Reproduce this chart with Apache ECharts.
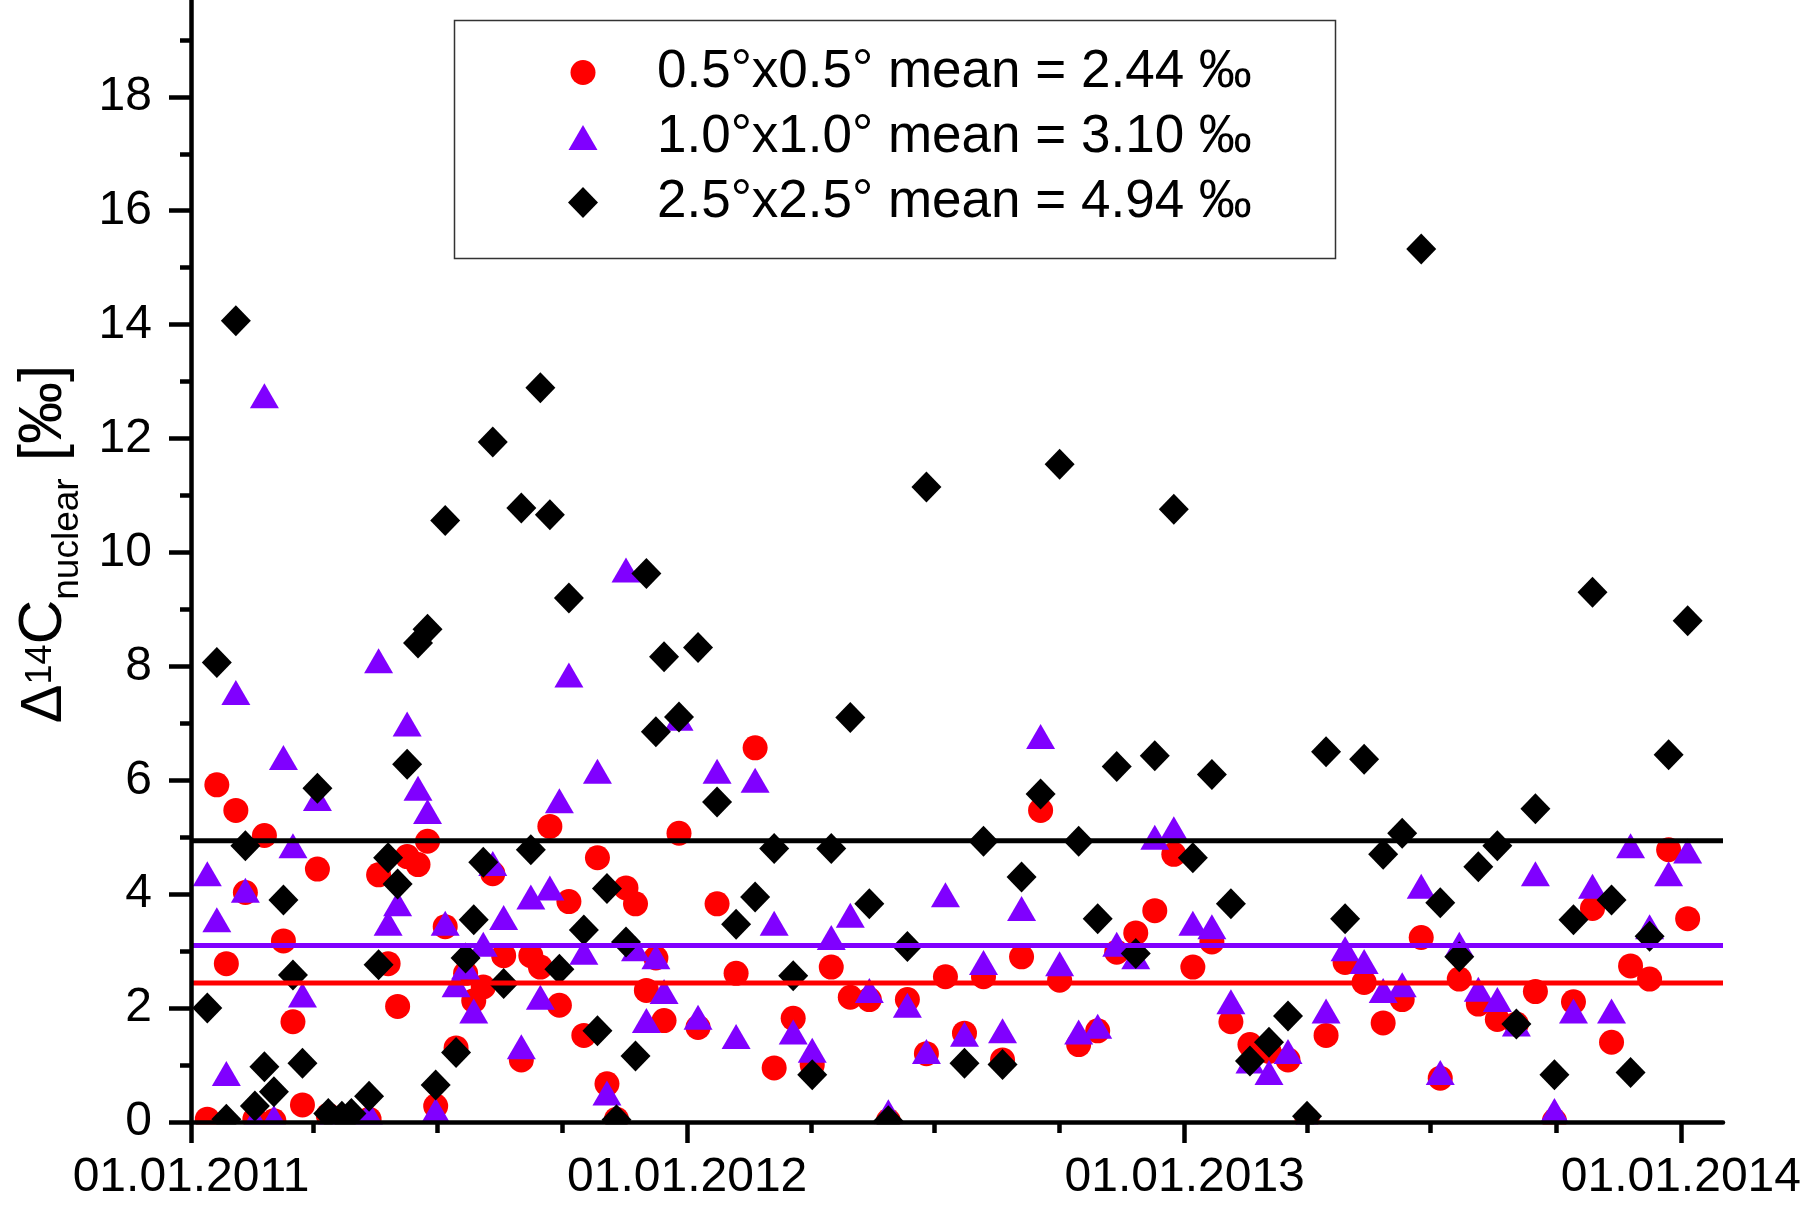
<!DOCTYPE html>
<html><head><meta charset="utf-8">
<script src="https://cdn.jsdelivr.net/npm/echarts@6/dist/echarts.min.js"></script>
<style>html,body{margin:0;padding:0;background:#fff}#c{width:1809px;height:1210px}</style>
</head><body><div id="c"></div>
<script>
// sampling day: days after 01.01.2011
const sampleDay = [12,19,26,33,40,47,54,61,68,75,82,93,101,111,118,131,138,145,152,159,167,174,180,187,195,202,208,215,222,230,243,250,257,264,271,278,289,299,306,313,320,327,335,342,348,359,
373,387,401,415,429,443,457,471,485,499,513,527,541,555,569,583,597,611,625,639,653,667,681,695,709,723,737,751,765,779,793,807,821,835,849,863,877,891,905,919,933,947,961,975,989,1003,1017,1031,1045,1059,1073,1087,1101];
const res05 = [0.05,5.92,2.78,5.47,4.03,0.05,5.03,0.02,3.18,1.76,0.3,4.44,0.12,0.05,0.03,0.05,4.34,2.78,2.03,4.66,4.52,4.93,0.28,3.43,1.3,2.61,2.13,2.37,4.36,2.92,1.09,2.92,2.72,5.19,2.05,3.87,1.52,4.64,0.67,0.05,4.11,3.83,2.31,2.88,1.78,5.07,
1.66,3.83,2.61,6.57,0.95,1.82,1.0,2.72,2.19,2.15,0.02,2.15,1.2,2.55,1.56,2.55,1.09,2.9,5.47,2.49,1.36,1.6,2.98,3.32,3.71,4.7,2.72,3.16,1.76,1.36,1.24,1.09,0.05,1.52,2.8,2.45,1.74,2.15,3.24,0.77,2.51,2.07,1.8,1.72,2.29,0.02,2.11,3.75,1.4,2.74,2.51,4.78,3.57];
const res10 = [4.36,3.55,0.85,7.54,4.07,0.05,12.75,0.08,6.4,4.85,2.23,5.68,0.05,0.05,0.08,0.15,8.1,3.49,3.83,6.99,5.86,5.45,0.2,3.49,2.41,2.72,1.95,3.12,4.54,3.59,1.32,3.95,2.19,4.11,5.64,7.85,2.98,6.16,0.51,0.05,9.69,3.04,1.78,2.9,2.29,7.09,
1.84,6.16,1.5,6.0,3.49,1.58,1.26,3.24,3.63,2.31,0.18,2.05,1.24,3.99,1.54,2.8,1.6,3.75,6.77,2.78,1.58,1.68,3.12,2.9,5.0,5.15,3.49,3.43,2.11,1.07,0.87,1.24,0.05,1.95,3.04,2.82,2.31,2.41,4.14,0.87,3.12,2.33,2.15,1.72,4.36,0.2,1.95,4.14,1.95,4.85,3.43,4.36,4.76];
const res25 = [2.0,8.07,0.05,14.07,4.85,0.28,0.97,0.53,3.9,2.58,1.03,5.86,0.15,0.1,0.15,0.45,2.76,4.64,4.18,6.28,8.41,8.65,0.65,10.56,1.22,2.88,3.55,4.56,11.94,2.43,10.78,4.78,12.89,10.66,2.68,9.2,3.37,1.6,4.1,0.04,3.16,1.16,9.63,6.85,8.17,7.11,
8.33,5.62,3.47,3.95,4.8,2.57,0.83,4.8,7.1,3.83,0.02,3.08,11.15,null,1.03,4.93,1.01,4.3,5.76,11.55,4.93,3.57,6.24,2.96,6.43,10.76,4.64,6.1,3.83,1.07,1.4,1.86,0.1,6.5,3.57,6.37,4.7,5.07,15.33,3.85,2.9,4.48,4.85,1.72,5.5,0.83,3.55,9.3,3.9,0.87,3.26,6.45,8.8];
const seriesNames = ['0.5°x0.5° mean = 2.44 ‰','1.0°x1.0° mean = 3.10 ‰','2.5°x2.5° mean = 4.94 ‰'];
const meanValues = [2.44, 3.10, 4.94];
const xMajorTicks = ['2011-01-01','2012-01-01','2013-01-01','2014-01-01'];
const xMinorTicks = ['2011-04-01','2011-07-01','2011-10-01','2012-04-01','2012-07-01','2012-10-01','2013-04-01','2013-07-01','2013-10-01'];
const xRange = ['2011-01-01','2014-02-01'];
const yMajorTicks = [0,2,4,6,8,10,12,14,16,18];
const yMinorTicks = [1,3,5,7,9,11,13,15,17,19];
const yRange = [0, 19.7];

const FONT = '"Liberation Sans", Arial, sans-serif';
const ts = s => Date.parse(s + 'T00:00:00Z');
const dayTs = d => Date.UTC(2011,0,1) + d*86400000;
const pad = n => (n<10?'0':'') + n;
const fmtDate = v => { const d = new Date(v); return pad(d.getUTCDate()) + '.' + pad(d.getUTCMonth()+1) + '.' + d.getUTCFullYear(); };

const colors = ['#ff0000', '#8000ff', '#000000'];
const symbols = ['circle', 'triangle', 'diamond'];
const sizes = [[25,25],[29,25],[30,31]];
const values = [res05, res10, res25];

const chart = echarts.init(document.getElementById('c'), null, {renderer:'canvas'});
const gridLeft = 191, gridTop = 0, gridRight = 86, gridBottom = 88;
const AXW = 4.5;

const scatterSeries = values.map((vals, k) => ({
  type: 'scatter', name: seriesNames[k],
  xAxisIndex: 0, yAxisIndex: 0,
  data: sampleDay.map((d,i) => [dayTs(d), vals[i]]).filter(p => p[1] !== null),
  symbol: symbols[k], symbolSize: sizes[k],
  itemStyle: {color: colors[k], opacity: 1},
  emphasis: {disabled: true},
  z: 2 + k
}));
const meanSeries = meanValues.map((m, k) => ({
  type: 'line', name: 'mean' + k, xAxisIndex: 0, yAxisIndex: 0,
  data: [[ts(xRange[0]), m], [ts(xRange[1]), m]],
  showSymbol: false, symbol: 'none', silent: true,
  lineStyle: {color: colors[k], width: 5, type: 'solid'},
  emphasis: {disabled: true}, z: 6
}));

const legendCenters = [69, 134, 199];
const legends = [0,1,2].map(k => ({
  data: [seriesNames[k]], orient: 'vertical', selectedMode: false,
  left: 583 - sizes[k][0]/2, top: legendCenters[k] - 30, padding: 0, itemGap: 0,
  itemWidth: sizes[k][0], itemHeight: sizes[k][1],
  textStyle: {fontSize: 53, fontFamily: FONT, color: '#000', lineHeight: 60, padding: [7,0,0, 69 - sizes[k][0]/2]}
}));

const axisFont = {fontSize: 48, fontFamily: FONT, color: '#000'};
const option = {
  animation: false,
  backgroundColor: '#fff',
  grid: {left: gridLeft, top: gridTop, right: gridRight, bottom: gridBottom, containLabel: false},
  legend: legends,
  xAxis: [
    {type: 'value', min: ts(xRange[0]), max: ts(xRange[1]), z: 10,
     axisLine: {show: true, onZero: false, lineStyle: {color: '#000', width: AXW}},
     axisTick: {show: true, length: 21, lineStyle: {color: '#000', width: AXW}, customValues: xMajorTicks.map(ts)},
     axisLabel: {show: true, margin: 32, ...axisFont, customValues: xMajorTicks.map(ts), formatter: fmtDate},
     splitLine: {show: false}},
    {type: 'value', min: ts(xRange[0]), max: ts(xRange[1]), position: 'bottom', z: 10,
     axisLine: {show: false, onZero: false},
     axisTick: {show: true, length: 11, lineStyle: {color: '#000', width: AXW}, customValues: xMinorTicks.map(ts)},
     axisLabel: {show: false}, splitLine: {show: false}}
  ],
  yAxis: [
    {type: 'value', min: yRange[0], max: yRange[1], position: 'left', z: 10,
     axisLine: {show: true, onZero: false, lineStyle: {color: '#000', width: AXW}},
     axisTick: {show: true, length: 22, lineStyle: {color: '#000', width: AXW}, customValues: yMajorTicks},
     axisLabel: {show: true, margin: 39, ...axisFont, customValues: yMajorTicks},
     splitLine: {show: false}},
    {type: 'value', min: yRange[0], max: yRange[1], position: 'left', z: 10,
     axisLine: {show: false, onZero: false},
     axisTick: {show: true, length: 11, lineStyle: {color: '#000', width: AXW}, customValues: yMinorTicks},
     axisLabel: {show: false}, splitLine: {show: false}}
  ],
  series: scatterSeries.concat(meanSeries),
  graphic: [
    {type: 'rect', z: 7, silent: true, shape: {x: 150, y: 1210 - gridBottom + 2.5, width: 1659, height: 30}, style: {fill: '#fff'}},
    {type: 'rect', z: 7, silent: true, shape: {x: 454.5, y: 20.5, width: 881, height: 238}, style: {fill: 'none', stroke: '#333', lineWidth: 1.5}},
    {type: 'text', z: 7, silent: true, x: 43.5, y: 544, rotation: Math.PI/2,
     style: {text: '{d|Δ}{sup|14}{a|C}{sub|nuclear}{a| [‰]}', align: 'center', verticalAlign: 'middle',
       rich: {
         a: {fontSize: 62, fontFamily: FONT, fill: '#000', lineHeight: 72},
         d: {fontSize: 58, fontFamily: FONT, fill: '#000', lineHeight: 72, padding: [3,0,0,0]},
         sup: {fontSize: 36, fontFamily: FONT, fill: '#000', lineHeight: 42, padding: [0,0,5,0]},
         sub: {fontSize: 37, fontFamily: FONT, fill: '#000', lineHeight: 42, padding: [49,0,0,0]}
       }}}
  ]
};
chart.setOption(option);
</script></body></html>
